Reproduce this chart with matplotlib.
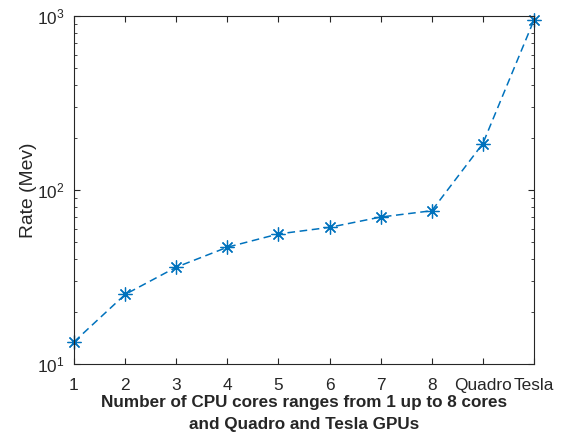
import matplotlib
matplotlib.use("Agg")
import matplotlib.pyplot as plt
from matplotlib.ticker import LogLocator, NullFormatter

categories = ["1", "2", "3", "4", "5", "6", "7", "8", "Quadro", "Tesla"]
rates = [13.4, 25.1, 36.0, 46.9, 55.9, 61.0, 69.9, 76.0, 185, 948]

plt.rcParams['font.family'] = ['Liberation Sans', 'DejaVu Sans']
plt.rcParams['mathtext.fontset'] = 'custom'
plt.rcParams['mathtext.rm'] = 'Liberation Sans'
plt.rcParams['mathtext.it'] = 'Liberation Sans:italic'
plt.rcParams['mathtext.bf'] = 'Liberation Sans:bold'
plt.rcParams['mathtext.default'] = 'regular'

fig = plt.figure(figsize=(5.61, 4.34), dpi=100)
ax = fig.add_axes([74/561, 1-364/434, 460/561, 348/434])

x = list(range(1, len(categories) + 1))
ax.plot(x, rates, linestyle='--', color='#0072BD', marker=(8, 2, 0), markersize=10,
        linewidth=1.1, markeredgewidth=0.9, dashes=(5, 3), clip_on=False)
ax.set_yscale('log')
ax.set_ylim(10, 1000)
ax.set_xlim(1, 10)
ax.set_xticks(x)
ax.set_xticklabels(categories)
ax.yaxis.set_minor_locator(LogLocator(base=10, subs=range(2, 10)))
ax.yaxis.set_minor_formatter(NullFormatter())

axcol = '#262626'
for s in ax.spines.values():
    s.set_color(axcol)
    s.set_linewidth(0.8)
ax.tick_params(which='both', direction='in', top=True, right=True, colors=axcol,
               labelsize=12.4, labelcolor=axcol)
ax.tick_params(which='major', length=4)
ax.tick_params(which='minor', length=2.5)
ax.tick_params(axis='x', pad=10)
ax.tick_params(axis='y', pad=7)

ax.set_ylabel('Rate (Mev)', fontsize=13.9, color=axcol, labelpad=0)
ax.set_xlabel('Number of CPU cores ranges from 1 up to 8 cores\nand Quadro and Tesla GPUs',
              fontsize=12.3, fontweight='bold', color=axcol, labelpad=1.5, linespacing=1.55)

fig.savefig('out.png', dpi=100)
